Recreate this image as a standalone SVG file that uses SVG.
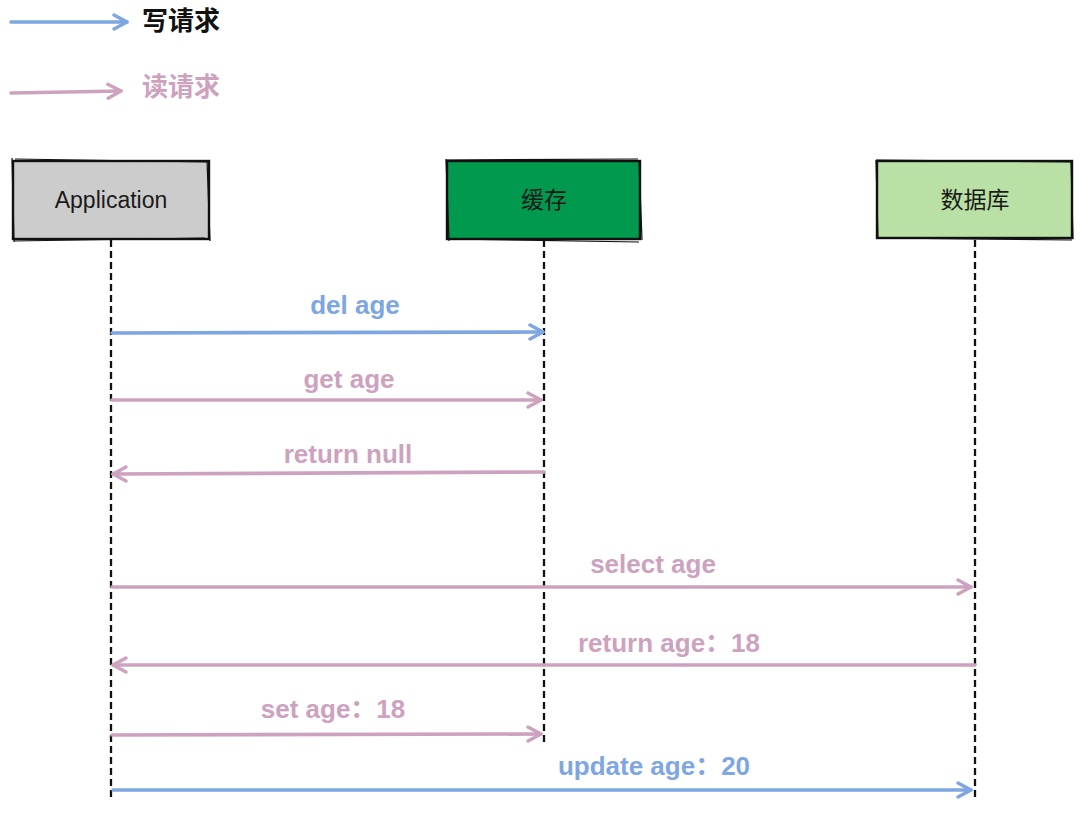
<svg xmlns="http://www.w3.org/2000/svg" width="1087" height="814" viewBox="0 0 1087 814">
<defs>
<style>
.lbl{font-family:"Liberation Sans","Noto Sans CJK SC",sans-serif;font-weight:bold;font-size:26px;text-anchor:middle}
.blue{fill:#7ea6e0}
.pink{fill:#cda2be}
.node{font-family:"Liberation Sans","Noto Sans CJK SC",sans-serif;font-size:23px;text-anchor:middle;fill:#1a1a1a}
.box{stroke:#111;stroke-width:2.4}
.sk{fill:none;stroke:#111;stroke-width:1.2}
.life{stroke:#111;stroke-width:2.3;stroke-dasharray:7 4;fill:none}
.wb{stroke:#7ea6e0;stroke-width:3.6;fill:none;stroke-linecap:round}
.rp{stroke:#cda2be;stroke-width:3.6;fill:none;stroke-linecap:round}
</style>
<marker id="ab" viewBox="0 0 18 18" refX="16" refY="9" markerWidth="18" markerHeight="18" markerUnits="userSpaceOnUse" orient="auto">
<path d="M3,2 L16,9 L3,16" fill="none" stroke="#7ea6e0" stroke-width="3.4" stroke-linecap="round" stroke-linejoin="round"/>
</marker>
<marker id="ap" viewBox="0 0 18 18" refX="16" refY="9" markerWidth="18" markerHeight="18" markerUnits="userSpaceOnUse" orient="auto">
<path d="M3,2 L16,9 L3,16" fill="none" stroke="#cda2be" stroke-width="3.4" stroke-linecap="round" stroke-linejoin="round"/>
</marker>
</defs>
<rect width="1087" height="814" fill="#ffffff"/>

<g id="legend">
<path class="wb" d="M11,22 L127,22" marker-end="url(#ab)"/>
<text class="lbl" x="181" y="30" fill="#111">写请求</text>
<path class="rp" d="M11,93 L121,91" marker-end="url(#ap)"/>
<text class="lbl pink" x="181" y="96">读请求</text>
</g>

<g id="lifelines">
<path class="life" d="M111,240 L111,800"/>
<path class="life" d="M544,240 L544,745"/>
<path class="life" d="M975,240 L975,800"/>
</g>

<g id="application">
<rect class="box" x="13" y="161" width="196" height="78" fill="#cccccc"/>
<path class="sk" d="M15,159 L208,162 M12,158 L14,242 M207,160 L210,241 M14,241 L205,238"/>
<text class="node" x="111" y="208">Application</text>
</g>

<g id="cache">
<rect class="box" x="447" y="161" width="193" height="78" fill="#00994d"/>
<path class="sk" d="M446,160 L638,159 M446,159 L449,241 M639,160 L642,240 M448,239 L639,242"/>
<text class="node" x="544" y="208">缓存</text>
</g>

<g id="database">
<rect class="box" x="877" y="161" width="195" height="77" fill="#b9e0a5"/>
<path class="sk" d="M876,160 L1071,162 M876,160 L878,239 M1071,161 L1073,239 M878,238 L1072,240"/>
<text class="node" x="975" y="208">数据库</text>
</g>

<g id="connectors">
<path class="wb" d="M112,333 L543,332" marker-end="url(#ab)"/>
<text class="lbl blue" x="355" y="314">del age</text>

<path class="rp" d="M112,400 L541,400" marker-end="url(#ap)"/>
<text class="lbl pink" x="349" y="388">get age</text>

<path class="rp" d="M544,472 L113,474" marker-end="url(#ap)"/>
<text class="lbl pink" x="348" y="463">return null</text>

<path class="rp" d="M112,587 L971,587" marker-end="url(#ap)"/>
<text class="lbl pink" x="653" y="573">select age</text>

<path class="rp" d="M975,665 L113,665" marker-end="url(#ap)"/>
<text class="lbl pink" x="669" y="652">return age：18</text>

<path class="rp" d="M112,735 L541,734" marker-end="url(#ap)"/>
<text class="lbl pink" x="333" y="718">set age：18</text>

<path class="wb" d="M113,790 L971,790" marker-end="url(#ab)"/>
<text class="lbl blue" x="654" y="775">update age：20</text>
</g>
</svg>
